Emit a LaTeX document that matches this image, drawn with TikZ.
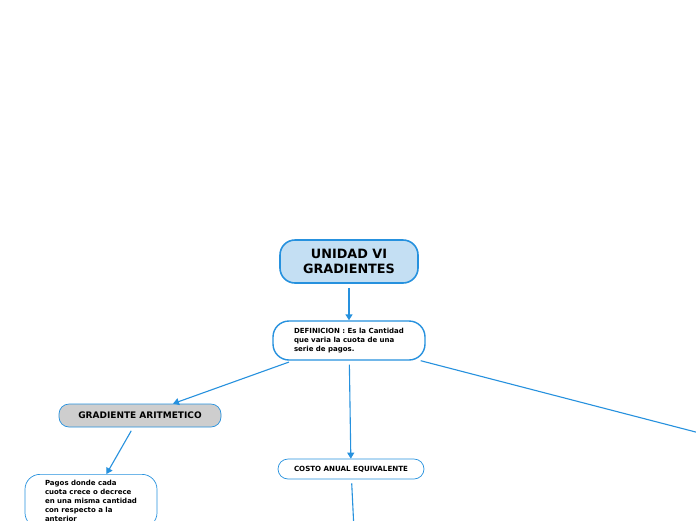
\documentclass[tikz,border=0pt]{standalone}
\usepackage{fontspec}
\setmainfont{DejaVu Sans}
\usetikzlibrary{positioning,arrows.meta}
\definecolor{mapblue}{RGB}{38,145,222}
\definecolor{softblue}{RGB}{196,223,243}
\definecolor{softgrey}{RGB}{206,206,206}

\begin{document}
\begin{tikzpicture}[
    x=1pt, y=-1pt,
    >={Triangle[length=6pt,width=7pt]},
    title/.style={
        draw=mapblue,
        line width=1.6pt,
        rounded corners=15pt,
        fill=softblue,
        font=\fontsize{12.8}{15}\selectfont\bfseries,
        align=center,
        minimum width=138pt,
        minimum height=43pt,
        inner sep=0pt
    },
    defbox/.style={
        draw=mapblue,
        line width=1.4pt,
        rounded corners=16pt,
        fill=white,
        font=\fontsize{7}{9}\selectfont\bfseries,
        align=left,
        minimum width=152pt,
        minimum height=39pt
    },
    branch/.style={
        draw=mapblue,
        line width=0.7pt,
        rounded corners=10pt,
        align=center,
        inner sep=0pt
    },
    note/.style={
        draw=mapblue,
        line width=0.7pt,
        rounded corners=15pt,
        fill=white,
        font=\fontsize{7}{9}\selectfont\bfseries,
        align=left,
        minimum width=132pt,
        inner ysep=6pt
    },
    arrow/.style={->, draw=mapblue, line width=1.1pt, shorten <=4pt},
    line/.style={draw=mapblue, line width=1.1pt}
]

\clip (0,0) rectangle (696,520);
\fill[white] (0,0) rectangle (696,520);

\node[title] (unidad) at (349,261.5)
{UNIDAD VI\\GRADIENTES};

\node[defbox] (defn) at (349,340.5)
{DEFINICION : Es la Cantidad\\que varia la cuota de una\\serie de pagos.};

\draw[arrow, line width=1.6pt] (unidad) -- (defn);

% BRANCHES
\node[branch, fill=softgrey, minimum width=162pt, minimum height=23pt,
      font=\fontsize{9}{10}\selectfont\bfseries] (aritmetico) at (140,415.5)
{GRADIENTE ARITMETICO};

\node[branch, fill=white, minimum width=146pt, minimum height=20pt,
      font=\fontsize{7.1}{8}\selectfont\bfseries] (costo) at (351,469)
{COSTO ANUAL EQUIVALENTE};

\coordinate (offright) at (740,443.5);

\draw[arrow] (defn) -- (aritmetico);
\draw[arrow] (defn) -- (costo);
\draw[line] ([xshift=-5pt]defn.south east) -- (offright);

% GRADIENTE ARITMETICO
\node[note, anchor=north] (pagos) at (91,474)
{Pagos donde cada\\cuota crece o decrece\\en una misma cantidad\\con respecto a la\\anterior};

\draw[arrow] (aritmetico) -- (pagos);

% COSTO ANUAL EQUIVALENTE
\coordinate (offdown) at (354.5,540);

\draw[line, shorten <=4pt] (costo) -- (offdown);

\end{tikzpicture}
\end{document}
